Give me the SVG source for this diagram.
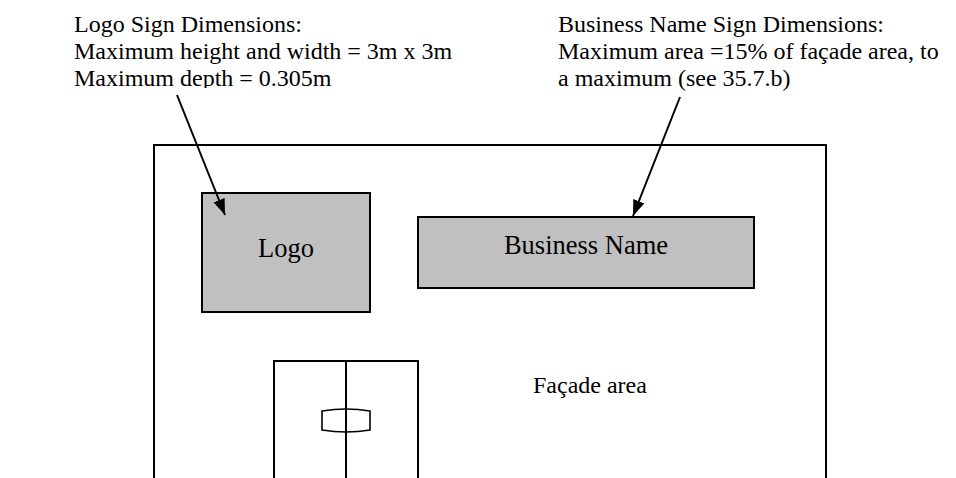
<svg xmlns="http://www.w3.org/2000/svg" width="956" height="478" viewBox="0 0 956 478">
<style>
text{font-family:"Liberation Serif","Times New Roman",serif;fill:#000}
.hd{font-size:24px}
.lb{font-size:26.5px}
.box{fill:#c0c0c0;stroke:#000;stroke-width:2}
.ln{fill:none;stroke:#000;stroke-width:2}
.conn{fill:none;stroke:#000;stroke-width:2}
</style>
<defs>
<marker id="ah" markerUnits="userSpaceOnUse" markerWidth="18" markerHeight="14" refX="16" refY="6" orient="auto">
<path d="M0,0 L16,6 L0,12 Z" fill="#000"/>
</marker>
<clipPath id="clipL"><rect x="0" y="0" width="540" height="88"/></clipPath>
</defs>
<rect width="956" height="478" fill="#fff"/>
<g id="facade">
<path class="ln" d="M154,479 L154,145 L826,145 L826,479"/>
<text class="hd" x="533" y="393">Façade area</text>
</g>
<g id="logo-note" clip-path="url(#clipL)">
<text class="hd" x="74" y="32">Logo Sign Dimensions:</text>
<text class="hd" x="74" y="59">Maximum height and width = 3m x 3m</text>
<text class="hd" x="74" y="86">Maximum depth = 0.305m</text>
</g>
<g id="business-note">
<text class="hd" x="558" y="32">Business Name Sign Dimensions:</text>
<text class="hd" x="558" y="59">Maximum area =15% of façade area, to</text>
<text class="hd" x="558" y="86">a maximum (see 35.7.b)</text>
</g>
<g id="logo">
<rect class="box" x="202" y="193" width="168" height="119"/>
<text class="lb" x="286" y="257" text-anchor="middle">Logo</text>
</g>
<g id="business-name">
<rect class="box" x="418" y="217" width="336" height="71"/>
<text class="lb" x="586" y="254" text-anchor="middle">Business Name</text>
</g>
<g id="door">
<path class="ln" d="M274,479 L274,361 L418,361 L418,479 M346,361 L346,479"/>
<path fill="none" stroke="#000" stroke-width="1.6" d="M322,411 Q346,407 370,411 L370,430 Q346,434 322,430 Z"/>
</g>
<g id="connectors">
<line class="conn" x1="177" y1="95" x2="225" y2="215" marker-end="url(#ah)"/>
<line class="conn" x1="680" y1="97" x2="633" y2="216" marker-end="url(#ah)"/>
</g>
</svg>
